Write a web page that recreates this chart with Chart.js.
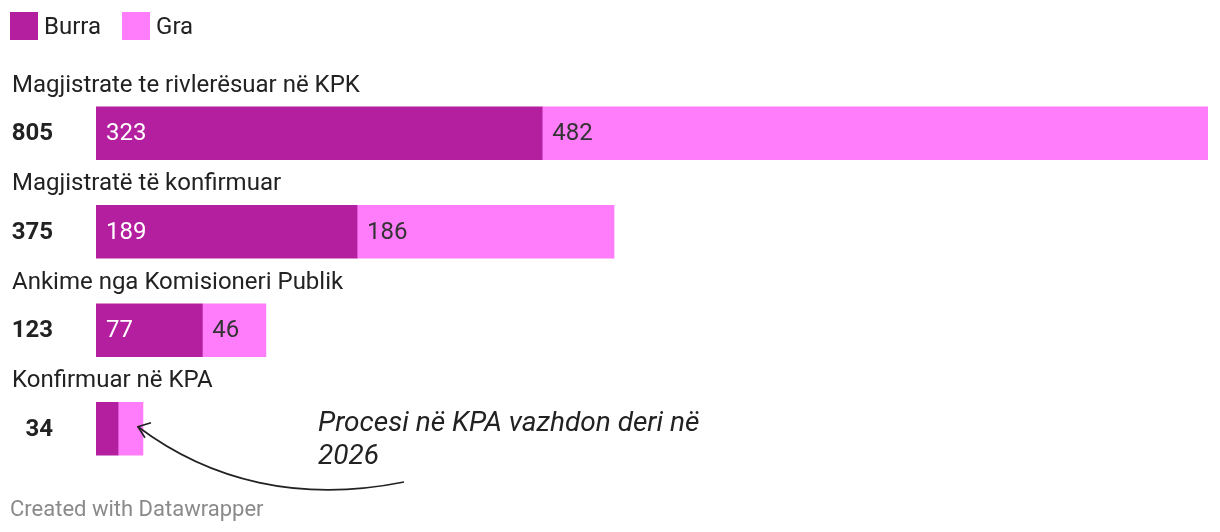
<!DOCTYPE html>
<html>
<head>
<meta charset="utf-8">
<script src="https://cdn.jsdelivr.net/npm/chart.js@4"></script>
<style>
  body { margin: 0; background: #fff; }
  #wrap { position: relative; width: 1220px; height: 532px; }
</style>
</head>
<body>
<div id="wrap"><canvas id="chart" width="1220" height="532"></canvas></div>
<script>
var categories = [
  "Magjistrate te rivlerësuar në KPK",
  "Magjistratë të konfirmuar",
  "Ankime nga Komisioneri Publik",
  "Konfirmuar në KPA"
];
var seriesNames = ["Burra", "Gra"];
var burra = [323, 189, 77, 16];
var gra = [482, 186, 46, 18];
var note = ["Procesi në KPA vazhdon deri në", "2026"];

var darkColor = "#b31f9f";
var lightColor = "#ff7dfa";
var font = "Roboto, 'Noto Sans', sans-serif";

var labelsPlugin = {
  id: "dwLabels",
  afterDatasetsDraw: function (chart) {
    var ctx = chart.ctx;
    var m0 = chart.getDatasetMeta(0);
    var m1 = chart.getDatasetMeta(1);
    ctx.save();

    // legend
    var lx = 10;
    seriesNames.forEach(function (name, i) {
      ctx.fillStyle = i === 0 ? darkColor : lightColor;
      ctx.fillRect(lx, 12, 28, 28);
      ctx.fillStyle = "#222";
      ctx.font = "24px " + font;
      ctx.textBaseline = "middle";
      ctx.textAlign = "left";
      ctx.fillText(name, lx + 34, 28);
      lx += 34 + ctx.measureText(name).width + 21;
    });

    categories.forEach(function (cat, i) {
      var b0 = m0.data[i], b1 = m1.data[i];
      var h = b0.height;
      var top = b0.y - h / 2;
      // category label
      ctx.fillStyle = "#222";
      ctx.font = "24px " + font;
      ctx.textAlign = "left";
      ctx.textBaseline = "middle";
      ctx.fillText(cat, 12, top - 21);
      // total
      ctx.font = "bold 24px " + font;
      ctx.textAlign = "right";
      ctx.fillText(String(burra[i] + gra[i]), 53, b0.y + 1);
      // values inside bars
      ctx.font = "24px " + font;
      ctx.textAlign = "left";
      if (b0.x - b0.base > 40) {
        ctx.fillStyle = "#fff";
        ctx.fillText(String(burra[i]), b0.base + 10, b0.y + 1);
      }
      if (b1.x - b1.base > 40) {
        ctx.fillStyle = "#333";
        ctx.fillText(String(gra[i]), b1.base + 10, b1.y + 1);
      }
    });

    // annotation
    ctx.fillStyle = "#222";
    ctx.font = "italic 28px " + font;
    ctx.textAlign = "left";
    ctx.textBaseline = "middle";
    ctx.fillText(note[0], 318, 424);
    ctx.fillText(note[1], 318, 457);

    var last = m1.data[categories.length - 1];
    var tipX = last.x - 5, tipY = last.y - 2;
    ctx.strokeStyle = "#222";
    ctx.lineWidth = 1.6;
    ctx.beginPath();
    ctx.moveTo(404, 482);
    ctx.bezierCurveTo(300, 503, 210, 481, tipX, tipY);
    ctx.stroke();
    ctx.beginPath();
    ctx.moveTo(tipX + 13, tipY - 4);
    ctx.lineTo(tipX, tipY);
    ctx.lineTo(tipX + 7, tipY + 11);
    ctx.stroke();

    // footer
    ctx.fillStyle = "#8a8a8a";
    ctx.font = "22px " + font;
    ctx.fillText("Created with Datawrapper", 10, 510);
    ctx.restore();
  }
};

var chart = new Chart(document.getElementById("chart"), {
  type: "bar",
  data: {
    labels: categories,
    datasets: [{
      label: seriesNames[0],
      data: burra,
      backgroundColor: darkColor,
      barThickness: 53
    }, {
      label: seriesNames[1],
      data: gra,
      backgroundColor: lightColor,
      barThickness: 53
    }]
  },
  options: {
    indexAxis: "y",
    responsive: false,
    animation: false,
    layout: { padding: { left: 96, right: 12, top: 84, bottom: 54 } },
    plugins: { legend: { display: false }, tooltip: { enabled: false } },
    scales: {
      x: { stacked: true, min: 0, max: 805, display: false },
      y: { stacked: true, display: false }
    }
  },
  plugins: [labelsPlugin]
});
</script>
</body>
</html>
